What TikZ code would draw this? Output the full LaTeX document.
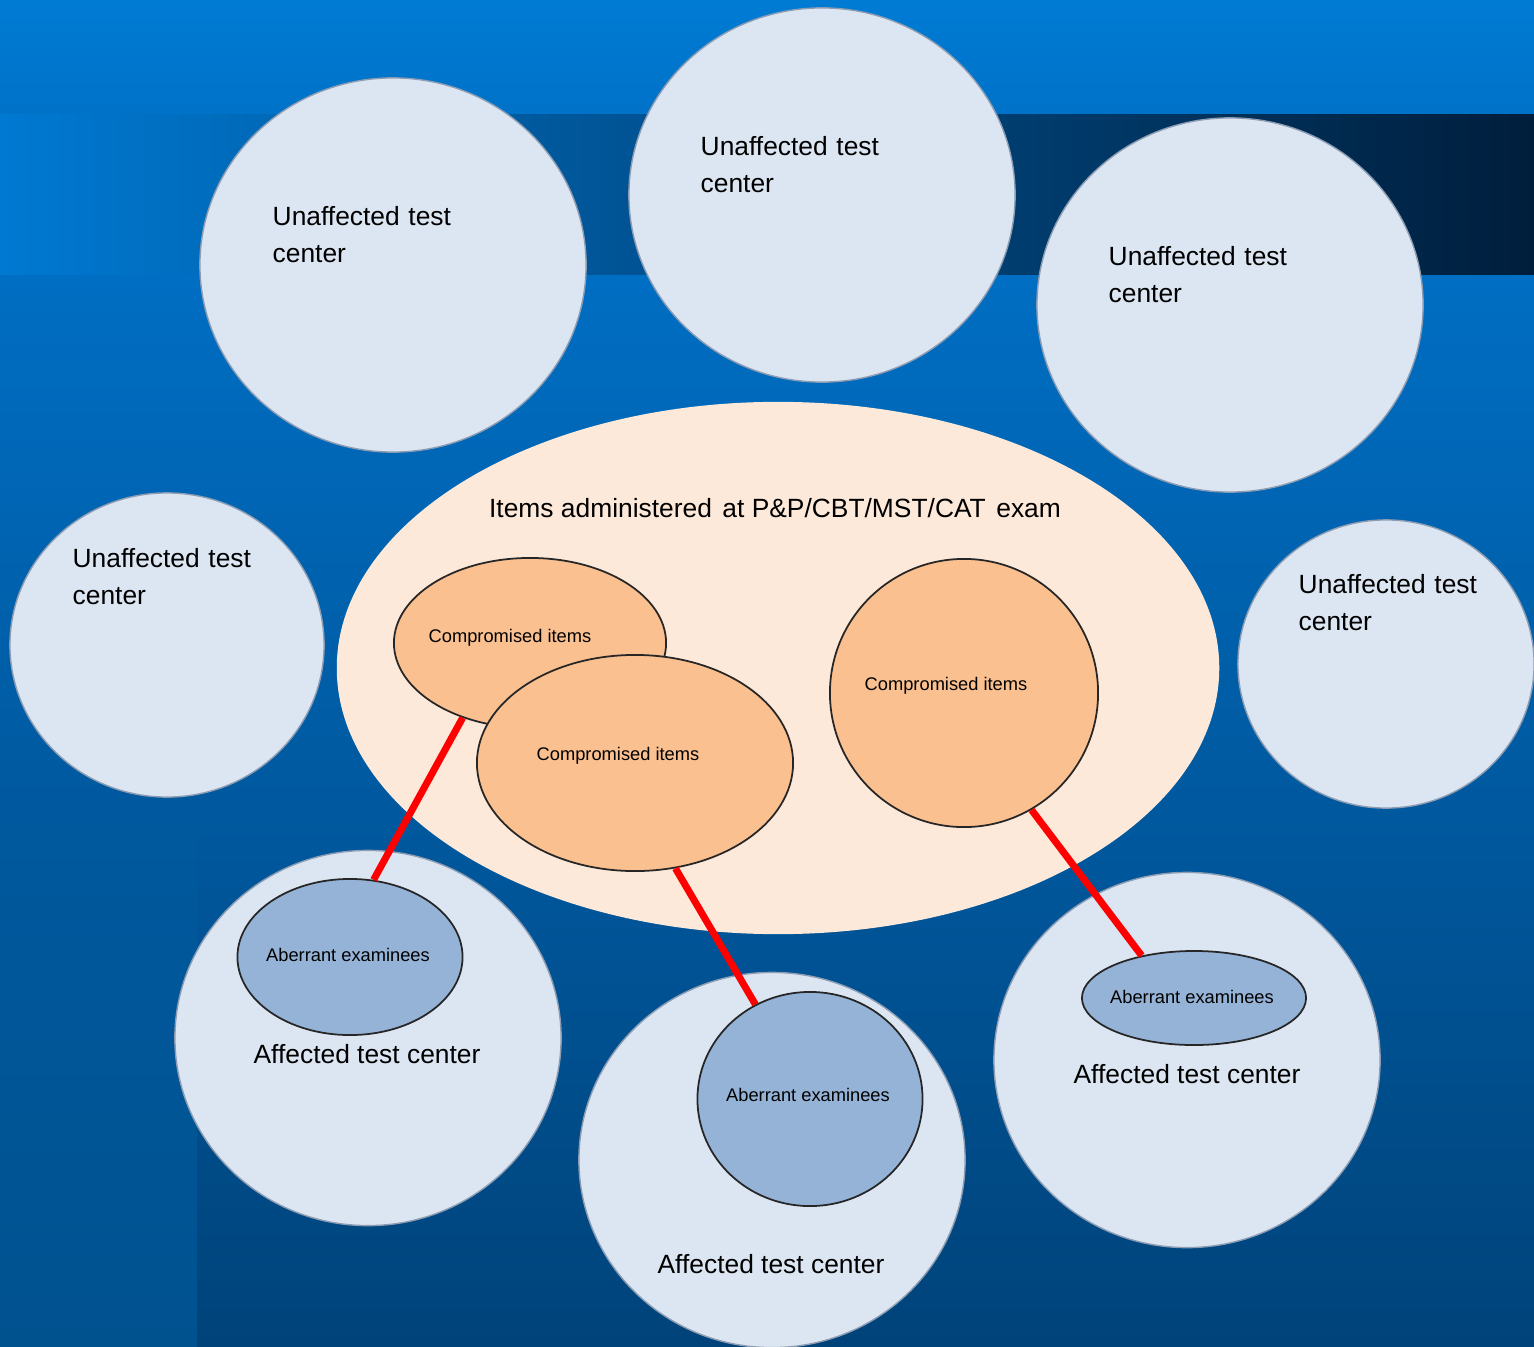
\documentclass[tikz,border=0pt]{standalone}
\usepackage{fontspec}
\setmainfont{Liberation Sans}
\usetikzlibrary{shapes.geometric}
\definecolor{bandtop1}{HTML}{007BD4}
\definecolor{bandtop2}{HTML}{0072C8}
\definecolor{bandL}{HTML}{0079D2}
\definecolor{bandR}{HTML}{001E3C}
\definecolor{mainT}{HTML}{006EC3}
\definecolor{mainB}{HTML}{00437A}
\definecolor{stripT}{HTML}{00599E}
\definecolor{stripB}{HTML}{00528F}
\definecolor{unaff}{HTML}{DCE6F2}
\definecolor{unaffedge}{HTML}{8C9CB2}
\definecolor{bigell}{HTML}{FDE9D9}
\definecolor{comp}{HTML}{FAC090}
\definecolor{aberr}{HTML}{95B3D7}
\definecolor{linkred}{HTML}{FF0000}
\newcommand{\wgap}{\hspace{0.33em}}
\newcommand{\igap}{\hspace{0.4em}}
\tikzset{
  ucirc/.style={ellipse, fill=unaff, draw=unaffedge, line width=0.4pt, inner sep=0pt},
  compell/.style={ellipse, fill=comp, draw=black!85, line width=0.5pt, inner sep=0pt},
  aberell/.style={ellipse, fill=aberr, draw=black!85, line width=0.5pt, inner sep=0pt},
  bigellipse/.style={ellipse, fill=bigell, draw=none, inner sep=0pt},
  ulabel/.style={anchor=north west, align=left, inner sep=0pt, font=\fontsize{7.5}{10.5}\selectfont},
  biglabel/.style={anchor=base, inner sep=0pt, font=\fontsize{7.5}{10.5}\selectfont},
  smalllabel/.style={anchor=base, inner sep=0pt, font=\fontsize{5.2}{6}\selectfont},
  redlink/.style={draw=linkred, line width=2pt}
}
\begin{document}
\begin{tikzpicture}[x=0.01cm, y=-0.01cm]
\useasboundingbox (0,0) rectangle (1534,1346);
% background
\shade[top color=bandtop1, bottom color=bandtop2] (0,0) rectangle (1534,116);
\shade[left color=bandL, right color=bandR] (0,115) rectangle (1534,277);
\shade[top color=mainT, bottom color=mainB] (0,276) rectangle (1534,1346);
\shade[top color=stripT, bottom color=stripB] (0,805) rectangle (197,1346);
% unaffected test centers
\node[ucirc, minimum width=3.86cm, minimum height=3.74cm] (u1) at (393,265) {};
\node[ucirc, minimum width=3.86cm, minimum height=3.74cm] (u2) at (822,195) {};
\node[ucirc, minimum width=3.86cm, minimum height=3.74cm] (u3) at (1230,305) {};
\node[ucirc, minimum width=3.14cm, minimum height=3.04cm] (u4) at (167,645) {};
\node[ucirc, minimum width=2.96cm, minimum height=2.88cm] (u5) at (1386,664) {};
% affected test centers
\node[ucirc, minimum width=3.86cm, minimum height=3.75cm] (a1) at (368,1038) {};
\node[ucirc, minimum width=3.86cm, minimum height=3.75cm] (a2) at (772,1160) {};
\node[ucirc, minimum width=3.86cm, minimum height=3.75cm] (a3) at (1187,1060) {};
% items ellipse
\node[bigellipse, minimum width=8.82cm, minimum height=5.32cm] (big) at (778,668) {};
% compromised items
\node[compell, minimum width=2.72cm, minimum height=1.70cm] (cA) at (530,643) {};
\node[compell, minimum width=3.16cm, minimum height=2.16cm] (cB) at (635,763) {};
\node[compell, minimum width=2.68cm, minimum height=2.68cm] (cC) at (964,693) {};
% aberrant examinees
\node[aberell, minimum width=2.25cm, minimum height=1.56cm] (eD) at (350,957) {};
\node[aberell, minimum width=2.25cm, minimum height=2.14cm] (eE) at (810,1099) {};
\node[aberell, minimum width=2.24cm, minimum height=0.94cm] (eF) at (1194,998) {};
% links
\draw[redlink] (cA.228.5) -- (eD.73.4);
\draw[redlink] (cB.291.3) -- (eE.120.5);
\draw[redlink] (cC.300.2) -- (eF.141.7);
% labels
\node[ulabel] (t1) at (272,206) {Unaffected\wgap test\\center};
\node[ulabel] (t2) at (700,136) {Unaffected\wgap test\\center};
\node[ulabel] (t3) at (1108,246) {Unaffected\wgap test\\center};
\node[ulabel] (t4) at (72,548) {Unaffected\wgap test\\center};
\node[ulabel] (t5) at (1298,574) {Unaffected\wgap test\\center};
\node[biglabel] (titems) at (775,517) {Items administered\igap at P\&P/CBT/MST/CAT\igap exam};
\node[smalllabel] (tA) at (510,642) {Compromised items};
\node[smalllabel] (tB) at (618,760) {Compromised items};
\node[smalllabel] (tC) at (946,690) {Compromised items};
\node[smalllabel] (tD) at (348,961) {Aberrant examinees};
\node[smalllabel] (tE) at (808,1101) {Aberrant examinees};
\node[smalllabel] (tF) at (1192,1003) {Aberrant examinees};
\node[biglabel] (tg1) at (367,1063) {Affected test center};
\node[biglabel] (tg2) at (771,1273) {Affected test center};
\node[biglabel] (tg3) at (1187,1083) {Affected test center};
\end{tikzpicture}
\end{document}
